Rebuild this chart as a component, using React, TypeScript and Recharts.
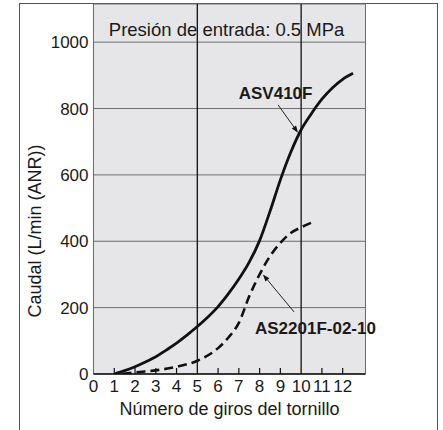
import React from "react";
import {
  LineChart,
  Line,
  XAxis,
  YAxis,
  CartesianGrid,
  ReferenceLine,
  ReferenceDot,
  ReferenceArea,
} from "recharts";

// Caudal vs. número de giros (presión de entrada 0.5 MPa)
const asv410fTurns = [1, 1.5, 2, 2.5, 3, 3.5, 4, 4.5, 5, 5.5, 6, 6.5, 7, 7.5, 8, 8.5, 9, 9.5, 10, 10.5, 11, 11.5, 12, 12.5];
const asv410fFlow = [0, 10, 22, 36, 52, 72, 93, 117, 143, 171, 203, 242, 286, 337, 402, 490, 585, 668, 736, 785, 828, 862, 888, 906];

const as2201Turns = [1.4, 2, 3, 4, 5, 6, 6.5, 7, 7.5, 8, 8.5, 9, 9.5, 10, 10.5];
const as2201Flow = [0, 5, 11, 22, 40, 78, 110, 154, 234, 300, 355, 395, 425, 442, 456];

const xTicks = [0, 1, 2, 3, 4, 5, 6, 7, 8, 9, 10, 11, 12];
const yTicks = [0, 200, 400, 600, 800, 1000];
const minorTicks = [1, 2, 3, 4, 6, 7, 8, 9, 11, 12];
const majorVerticals = [5, 10];

const X_MAX = 13.1;
const Y_MAX = 1115;
const FONT = '"Liberation Sans", Arial, sans-serif';

const asv410f = asv410fTurns.map((x, i) => ({ x, y: asv410fFlow[i] }));
const as2201 = as2201Turns.map((x, i) => ({ x, y: as2201Flow[i] }));

const arrowShape = (props: any) => {
  const { x1, y1, x2, y2 } = props;
  const dx = x2 - x1;
  const dy = y2 - y1;
  const len = Math.sqrt(dx * dx + dy * dy) || 1;
  const ux = dx / len;
  const uy = dy / len;
  const hl = 7;
  const hw = 2.6;
  const bx = x2 - ux * hl;
  const by = y2 - uy * hl;
  const pts = `${x2},${y2} ${bx - uy * hw},${by + ux * hw} ${bx + uy * hw},${by - ux * hw}`;
  return (
    <g>
      <line x1={x1} y1={y1} x2={bx} y2={by} stroke="#222" strokeWidth={1} />
      <polygon points={pts} fill="#111" />
    </g>
  );
};

const textDot = (text: string, size: number, weight: number) => (p: any) => (
  <text
    x={p.cx}
    y={p.cy}
    textAnchor="middle"
    dominantBaseline="central"
    fontFamily={FONT}
    fontSize={size}
    fontWeight={weight}
    fill="#1a1a1a"
  >
    {text}
  </text>
);

export default function App() {
  return (
    <div style={{ position: "absolute", left: 0, top: 0, width: 443, height: 430, background: "#fff", overflow: "hidden" }}>
      <div
        style={{
          position: "absolute",
          left: 19,
          top: 3,
          width: 417,
          height: 440,
          borderTop: "1px solid #555",
          borderLeft: "1px solid #555",
          borderRight: "1px solid #555",
        }}
      />
      <div style={{ position: "absolute", left: 0, top: 0 }}>
        <LineChart width={443} height={430} margin={{ top: 4, right: 77.5, bottom: 0, left: 0 }}>
          <CartesianGrid
            horizontal={true}
            vertical={false}
            fill="#e6e6e8"
            stroke="#6e6e6e"
            strokeWidth={1}
            horizontalValues={yTicks.filter((v) => v > 0)}
          />
          <XAxis
            type="number"
            dataKey="x"
            domain={[0, X_MAX]}
            ticks={xTicks}
            interval={0}
            allowDataOverflow
            height={56}
            tickSize={5}
            tickMargin={1}
            tickLine={false}
            axisLine={{ stroke: "#111", strokeWidth: 1.5 }}
            tick={{ fill: "#1a1a1a", fontSize: 17, fontFamily: FONT }}
            label={{
              value: "Número de giros del tornillo",
              position: "insideBottom",
              offset: 15,
              fill: "#1a1a1a",
              fontSize: 18,
              fontFamily: FONT,
            }}
          />
          <YAxis
            type="number"
            dataKey="y"
            domain={[0, Y_MAX]}
            ticks={yTicks}
            interval={0}
            allowDataOverflow
            width={93.5}
            tickSize={5}
            tickMargin={0}
            tickLine={false}
            axisLine={false}
            tick={{ fill: "#1a1a1a", fontSize: 17, fontFamily: FONT }}
            label={{
              content: (props: any) => {
                const vb = props.viewBox || { x: 0, y: 4, width: 93.5, height: 370 };
                const cx = vb.x + 35;
                const cy = vb.y + vb.height / 2 + 42;
                return (
                  <text
                    x={cx}
                    y={cy}
                    transform={`rotate(-90, ${cx}, ${cy})`}
                    textAnchor="middle"
                    dominantBaseline="central"
                    fontFamily={FONT}
                    fontSize={18}
                    fill="#1a1a1a"
                  >
                    Caudal (L/min (ANR))
                  </text>
                );
              },
            }}
          />
          <ReferenceArea x1={0} x2={X_MAX} y1={0} y2={Y_MAX} fill="none" fillOpacity={0} stroke="#6a6a6a" strokeWidth={1} />
          {majorVerticals.map((v) => (
            <ReferenceLine key={`v${v}`} x={v} stroke="#111" strokeWidth={1.3} />
          ))}
          {minorTicks.map((v) => (
            <ReferenceLine
              key={`t${v}`}
              segment={[
                { x: v, y: 0 },
                { x: v, y: 18 },
              ]}
              stroke="#111"
              strokeWidth={1.2}
            />
          ))}
          <Line
            data={as2201}
            dataKey="y"
            type="monotone"
            stroke="#111"
            strokeWidth={2.6}
            strokeDasharray="9 5"
            dot={false}
            isAnimationActive={false}
          />
          <Line
            data={asv410f}
            dataKey="y"
            type="monotone"
            stroke="#111"
            strokeWidth={2.8}
            dot={false}
            isAnimationActive={false}
          />
          <ReferenceLine
            segment={[
              { x: 8.89, y: 811 },
              { x: 9.85, y: 727 },
            ]}
            shape={arrowShape}
          />
          <ReferenceLine
            segment={[
              { x: 9.66, y: 187 },
              { x: 8.16, y: 300 },
            ]}
            shape={arrowShape}
          />
          <ReferenceDot x={6.41} y={1037} r={0} shape={textDot("Presión de entrada: 0.5 MPa", 18.5, 400)} />
          <ReferenceDot x={8.77} y={845} r={0} shape={textDot("ASV410F", 17, 700)} />
          <ReferenceDot x={10.69} y={136} r={0} shape={textDot("AS2201F-02-10", 17, 700)} ifOverflow="visible" />
        </LineChart>
      </div>
    </div>
  );
}
